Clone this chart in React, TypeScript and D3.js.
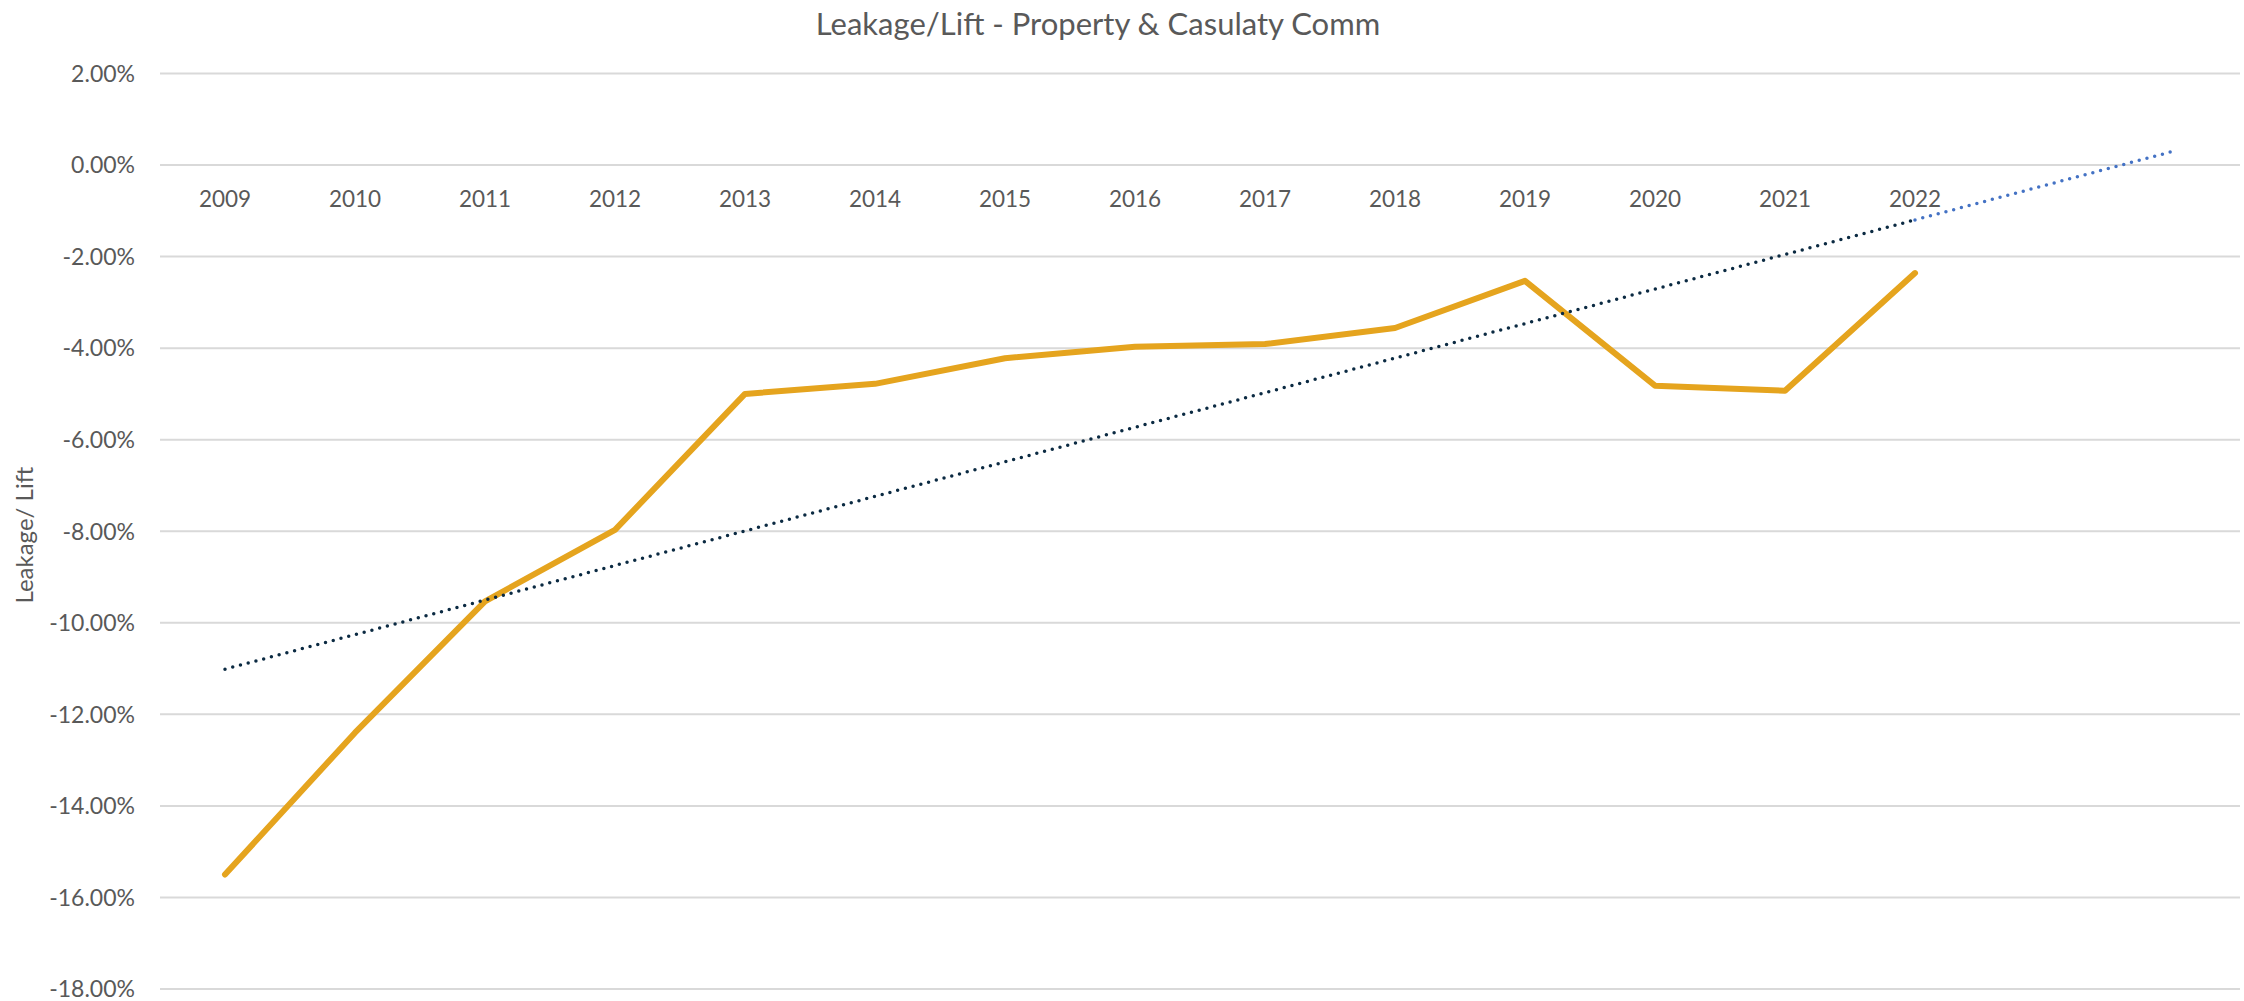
import React from "react";
import * as d3 from "d3";

const categories: string[] = ["2009","2010","2011","2012","2013","2014","2015","2016","2017","2018","2019","2020","2021","2022"];
const values: number[] = [-15.5, -12.4, -9.53, -7.97, -5.0, -4.78, -4.22, -3.97, -3.91, -3.56, -2.53, -4.82, -4.93, -2.36];
const forecastForward = 2;
const yTicks: number[] = [2, 0, -2, -4, -6, -8, -10, -12, -14, -16, -18];
const title = "Leakage/Lift - Property & Casulaty Comm";
const yTitle = "Leakage/ Lift";

const W = 2244, H = 1001;
const plotL = 160, plotR = 2240, plotT = 73.5, plotB = 989;
const FONT = "Lato, 'Open Sans', sans-serif";
const TEXT = "#595959";

export default function App() {
  const n = categories.length + forecastForward;
  const idx = d3.range(n);
  const x = d3.scalePoint<number>().domain(idx).range([plotL, plotR]).padding(0.5);
  const y = d3.scaleLinear().domain([-18, 2]).range([plotB, plotT]);

  // linear least squares trendline (as Excel)
  const xs = values.map((_, i) => i + 1);
  const mx = d3.mean(xs) as number;
  const my = d3.mean(values) as number;
  let sxy = 0, sxx = 0;
  xs.forEach((xi, i) => { sxy += (xi - mx) * (values[i] - my); sxx += (xi - mx) ** 2; });
  const slope = sxy / sxx;
  const intercept = my - slope * mx;
  const trend = (k: number) => intercept + slope * (k + 1);

  const line = d3.line<[number, number]>().x(d => d[0]).y(d => d[1]);
  const dataPts: [number, number][] = values.map((v, i) => [x(i) as number, y(v)]);
  const last = categories.length - 1;
  const trendA: [number, number][] = [[x(0) as number, y(trend(0))], [x(last) as number, y(trend(last))]];
  const trendB: [number, number][] = [[x(last) as number, y(trend(last))], [x(n - 1) as number, y(trend(n - 1))]];

  return (
    <svg width={W} height={H} style={{ position: "absolute", left: 0, top: 0, background: "#fff" }} fontFamily={FONT}>
      <rect x={0} y={0} width={W} height={H} fill="#fff" />
      <text x={1098} y={35} textAnchor="middle" fontSize={31} fill={TEXT}>{title}</text>
      {yTicks.map(t => (
        <g key={t}>
          <line x1={plotL} x2={plotR} y1={y(t)} y2={y(t)} stroke="#d9d9d9" strokeWidth={2} />
          <text x={135} y={y(t)} dy="0.36em" textAnchor="end" fontSize={23} fill={TEXT}>{t.toFixed(2) + "%"}</text>
        </g>
      ))}
      {categories.map((c, i) => (
        <text key={c} x={x(i) as number} y={y(0) + 42} textAnchor="middle" fontSize={22.5} fill={TEXT}>{c}</text>
      ))}
      <text transform={`translate(33,${(plotT + plotB) / 2 + 4}) rotate(-90)`} textAnchor="middle" fontSize={24} fill={TEXT}>{yTitle}</text>
      <path d={line(dataPts) as string} fill="none" stroke="#E5A41E" strokeWidth={6} strokeLinecap="round" strokeLinejoin="round" />
      <path d={line(trendA) as string} fill="none" stroke="#0B2A42" strokeWidth={3.5} strokeLinecap="round" strokeDasharray="0 8" />
      <path d={line(trendB) as string} fill="none" stroke="#4472C4" strokeWidth={3.5} strokeLinecap="round" strokeDasharray="0 8" />
    </svg>
  );
}
